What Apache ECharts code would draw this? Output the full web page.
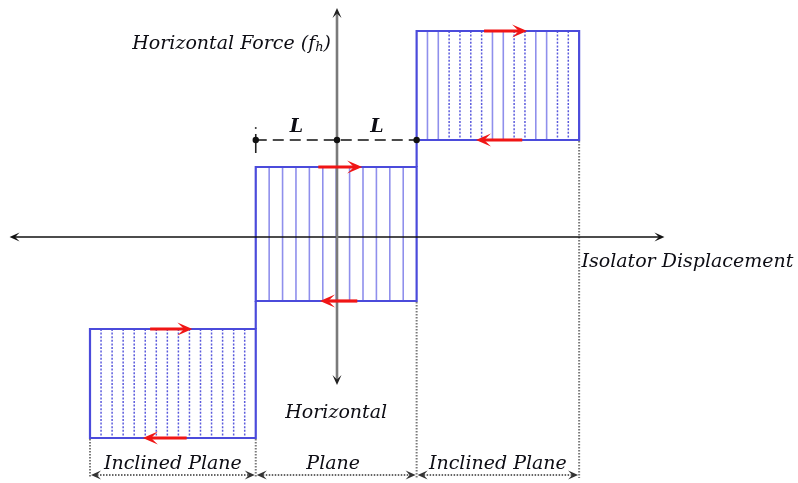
<!DOCTYPE html>
<html>
<head>
<meta charset="utf-8">
<script src="https://cdn.jsdelivr.net/npm/echarts@6/dist/echarts.min.js"></script>
<style>
  html, body { margin: 0; padding: 0; background: #fff; }
  #chart { width: 798px; height: 483px; }
</style>
</head>
<body>
<div id="chart"></div>
<script>
// Displacement in multiples of L, horizontal force in arbitrary units.

// Hysteresis blocks: [xLeft, xRight, fBottom, fTop]
const boxes = [
  [-3.04, -1.00, -2.01, -0.92],   // inclined plane, negative side
  [-1.00,  0.98, -0.64,  0.70],   // horizontal plane
  [ 0.98,  2.98,  0.97,  2.06]    // inclined plane, positive side
];

// Direction of motion along each branch: [xFrom, xTo, f]
const motionArrows = [
  [-2.30, -1.78, -0.92], [-1.85, -2.39, -2.01],
  [-0.23,  0.31,  0.70], [ 0.25, -0.21, -0.64],
  [ 1.81,  2.34,  2.06], [ 2.28,  1.71,  0.97]
];

// Reference points for the L dimension and their force level
const lPoints = [-1.00, 0.00, 0.98];
const lLevel = 0.97;
const lLabels = ['L', 'L'];

// Plane regions along the displacement axis
const regions = [
  [-3.04, -1.00, 'Inclined Plane'],
  [-1.00,  0.98, 'Horizontal\nPlane'],
  [ 0.98,  2.98, 'Inclined Plane']
];
const dimensionLevel = -2.38;

// Axis extents
const xAxisSpan = [-4.03, 4.03];
const yAxisSpan = [-1.48, 2.29];
const xTitle = 'Isolator Displacement';
const yTitle = ['Horizontal Force (f', 'h', ')'];

const chart = echarts.init(document.getElementById('chart'), null, { renderer: 'canvas' });

const BLUE = '#4b4bdb';
const HATCH_SOLID = '#8f8fec';
const HATCH_DOT = '#5a5adc';
const RED = '#f01515';
const GUIDE = '#7a7a7a';
const INK = '#0d0d14';
const FONT = '"DejaVu Serif", serif';
const TEXT_FONT = 'italic 19px ' + FONT;

// Hatch layout per block: number of strips and solid(0)/dotted(1) sequence of inner lines
const hatchStyles = [
  { count: 15, pattern: [1] },
  { count: 12, pattern: [0] },
  { count: 15, pattern: [0, 0, 1, 1, 1, 1, 0, 0, 1, 1, 0, 0, 1, 1] }
];

function arrowHead(tip, dir, len, half, notch, color) {
  const [dx, dy] = dir;
  const nx = -dy, ny = dx;
  const bx = tip[0] - dx * len, by = tip[1] - dy * len;
  return {
    type: 'polygon',
    shape: { points: [
      tip,
      [bx + nx * half, by + ny * half],
      [tip[0] - dx * len * notch, tip[1] - dy * len * notch],
      [bx - nx * half, by - ny * half]
    ] },
    style: { fill: color }
  };
}

function renderBox(params, api) {
  const i = params.dataIndex;
  const b = boxes[i];
  const tl = api.coord([b[0], b[3]]);
  const br = api.coord([b[1], b[2]]);
  const hs = hatchStyles[i];
  const children = [];
  for (let k = 1; k < hs.count; k++) {
    const x = tl[0] + (br[0] - tl[0]) * k / hs.count;
    const dotted = hs.pattern[(k - 1) % hs.pattern.length] === 1;
    children.push({
      type: 'line',
      shape: { x1: x, y1: tl[1], x2: x, y2: br[1] },
      style: dotted
        ? { stroke: HATCH_DOT, lineWidth: 1.5, lineDash: [2, 1.6] }
        : { stroke: HATCH_SOLID, lineWidth: 1.6 }
    });
  }
  children.push({
    type: 'rect',
    shape: { x: tl[0], y: tl[1], width: br[0] - tl[0], height: br[1] - tl[1] },
    style: { fill: null, stroke: BLUE, lineWidth: 2.2 }
  });
  return { type: 'group', children };
}

function renderFrame(params, api) {
  const children = [];
  // step connectors between neighbouring blocks
  for (let i = 0; i < boxes.length - 1; i++) {
    const x = boxes[i][1];
    const a = api.coord([x, boxes[i][3]]);
    const c = api.coord([x, boxes[i + 1][2]]);
    children.push({ type: 'line', shape: { x1: a[0], y1: a[1], x2: c[0], y2: c[1] },
      style: { stroke: BLUE, lineWidth: 2.2 } });
  }
  // dotted guides from each block edge down to the dimension line
  const edges = [];
  boxes.forEach(b => { edges.push(b[0]); edges.push(b[1]); });
  const uniq = [...new Set(edges.map(v => v.toFixed(3)))].map(Number);
  uniq.forEach(x => {
    let low = Infinity;
    boxes.forEach(b => {
      if (Math.abs(b[0] - x) < 1e-6 || Math.abs(b[1] - x) < 1e-6) low = Math.min(low, b[2]);
    });
    const p = api.coord([x, low]);
    const q = api.coord([x, dimensionLevel]);
    children.push({ type: 'line', shape: { x1: p[0], y1: p[1] + 1, x2: q[0], y2: q[1] + 3 },
      style: { stroke: GUIDE, lineWidth: 2, lineDash: [1.5, 1.5] } });
  });
  // dimension arrows and region names
  regions.forEach(r => {
    const a = api.coord([r[0], dimensionLevel]);
    const c = api.coord([r[1], dimensionLevel]);
    children.push({ type: 'line', shape: { x1: a[0] + 4, y1: a[1], x2: c[0] - 4, y2: c[1] },
      style: { stroke: '#666', lineWidth: 2, lineDash: [1.5, 1.5] } });
    children.push(arrowHead([a[0] + 1, a[1]], [-1, 0], 10, 4.5, 0.6, '#333'));
    children.push(arrowHead([c[0] - 1, c[1]], [1, 0], 10, 4.5, 0.6, '#333'));
    const lines = r[2].split('\n');
    const cx = (a[0] + c[0]) / 2;
    lines.slice().reverse().forEach((t, j) => {
      children.push({ type: 'text', x: cx - (lines.length > 1 ? 3 : 0) + (j > 0 ? 3 : 0), y: a[1] - 11 - j * 51,
        style: { text: t, font: TEXT_FONT, fill: INK, align: 'center', verticalAlign: 'middle' } });
    });
  });
  return { type: 'group', children };
}

function renderAxes(params, api) {
  const children = [];
  const xl = api.coord([xAxisSpan[0], 0]);
  const xr = api.coord([xAxisSpan[1], 0]);
  children.push({ type: 'line', shape: { x1: xl[0] + 4, y1: xl[1], x2: xr[0] - 4, y2: xr[1] },
    style: { stroke: '#111', lineWidth: 1.6 } });
  children.push(arrowHead(xl, [-1, 0], 10, 4.5, 0.55, '#111'));
  children.push(arrowHead(xr, [1, 0], 10, 4.5, 0.55, '#111'));
  const yt = api.coord([0, yAxisSpan[1]]);
  const yb = api.coord([0, yAxisSpan[0]]);
  children.push({ type: 'line', shape: { x1: yt[0], y1: yt[1] + 4, x2: yb[0], y2: yb[1] - 4 },
    style: { stroke: '#7a7a7a', lineWidth: 2.6 } });
  children.push(arrowHead(yt, [0, -1], 10, 4.5, 0.55, '#222'));
  children.push(arrowHead(yb, [0, 1], 10, 4.5, 0.55, '#222'));
  // axis titles
  children.push({ type: 'text', x: xr[0] - 83, y: xr[1] + 25,
    style: { text: xTitle, font: TEXT_FONT, fill: INK, align: 'left', verticalAlign: 'middle' } });
  children.push({ type: 'text', x: yt[0] - 6, y: yt[1] + 36,
    style: {
      text: '{a|' + yTitle[0] + '}{s|' + yTitle[1] + '}{a|' + yTitle[2] + '}',
      align: 'right', verticalAlign: 'middle',
      rich: {
        a: { font: TEXT_FONT, fill: INK },
        s: { font: 'italic 13px ' + FONT, fill: INK, verticalAlign: 'bottom', padding: [7, 0, 0, 0] }
      }
    } });
  return { type: 'group', children };
}

function renderL(params, api) {
  const children = [];
  const pts = lPoints.map(x => api.coord([x, lLevel]));
  children.push({ type: 'line', shape: { x1: pts[0][0], y1: pts[0][1], x2: pts[pts.length - 1][0], y2: pts[0][1] },
    style: { stroke: '#111', lineWidth: 1.6, lineDash: [11, 6] } });
  // start tick
  children.push({ type: 'line', shape: { x1: pts[0][0], y1: pts[0][1] - 6, x2: pts[0][0], y2: pts[0][1] + 13 },
    style: { stroke: '#222', lineWidth: 1.6 } });
  children.push({ type: 'circle', shape: { cx: pts[0][0], cy: pts[0][1] - 12, r: 1 }, style: { fill: '#333' } });
  pts.forEach(p => children.push({ type: 'circle', shape: { cx: p[0], cy: p[1], r: 3.2 }, style: { fill: '#111' } }));
  lLabels.forEach((t, i) => {
    children.push({ type: 'text', x: (pts[i][0] + pts[i + 1][0]) / 2, y: pts[0][1] - 13,
      style: { text: t, font: 'italic bold 19px ' + FONT, fill: INK, align: 'center', verticalAlign: 'middle' } });
  });
  return { type: 'group', children };
}

function renderMotion(params, api) {
  const m = motionArrows[params.dataIndex];
  const a = api.coord([m[0], m[2]]);
  const c = api.coord([m[1], m[2]]);
  const dir = c[0] > a[0] ? 1 : -1;
  return { type: 'group', children: [
    { type: 'line', shape: { x1: a[0], y1: a[1], x2: c[0] - dir * 8, y2: c[1] },
      style: { stroke: RED, lineWidth: 3.2 } },
    arrowHead(c, [dir, 0], 15, 6.5, 0.55, RED)
  ] };
}

const option = {
  animation: false,
  grid: { left: 12, right: 136, top: 0, bottom: 0 },
  xAxis: { type: 'value', min: -4, max: 4, show: false },
  yAxis: { type: 'value', min: -2.46, max: 2.37, show: false },
  series: [
    { type: 'custom', name: 'blocks', clip: false, data: boxes, renderItem: renderBox, silent: true },
    { type: 'custom', name: 'frame', clip: false, data: [0], renderItem: renderFrame, silent: true },
    { type: 'custom', name: 'axes', clip: false, data: [0], renderItem: renderAxes, silent: true },
    { type: 'custom', name: 'motion', clip: false, data: motionArrows, renderItem: renderMotion, silent: true },
    { type: 'custom', name: 'L', clip: false, data: [0], renderItem: renderL, silent: true }
  ]
};
chart.setOption(option);
</script>
</body>
</html>
